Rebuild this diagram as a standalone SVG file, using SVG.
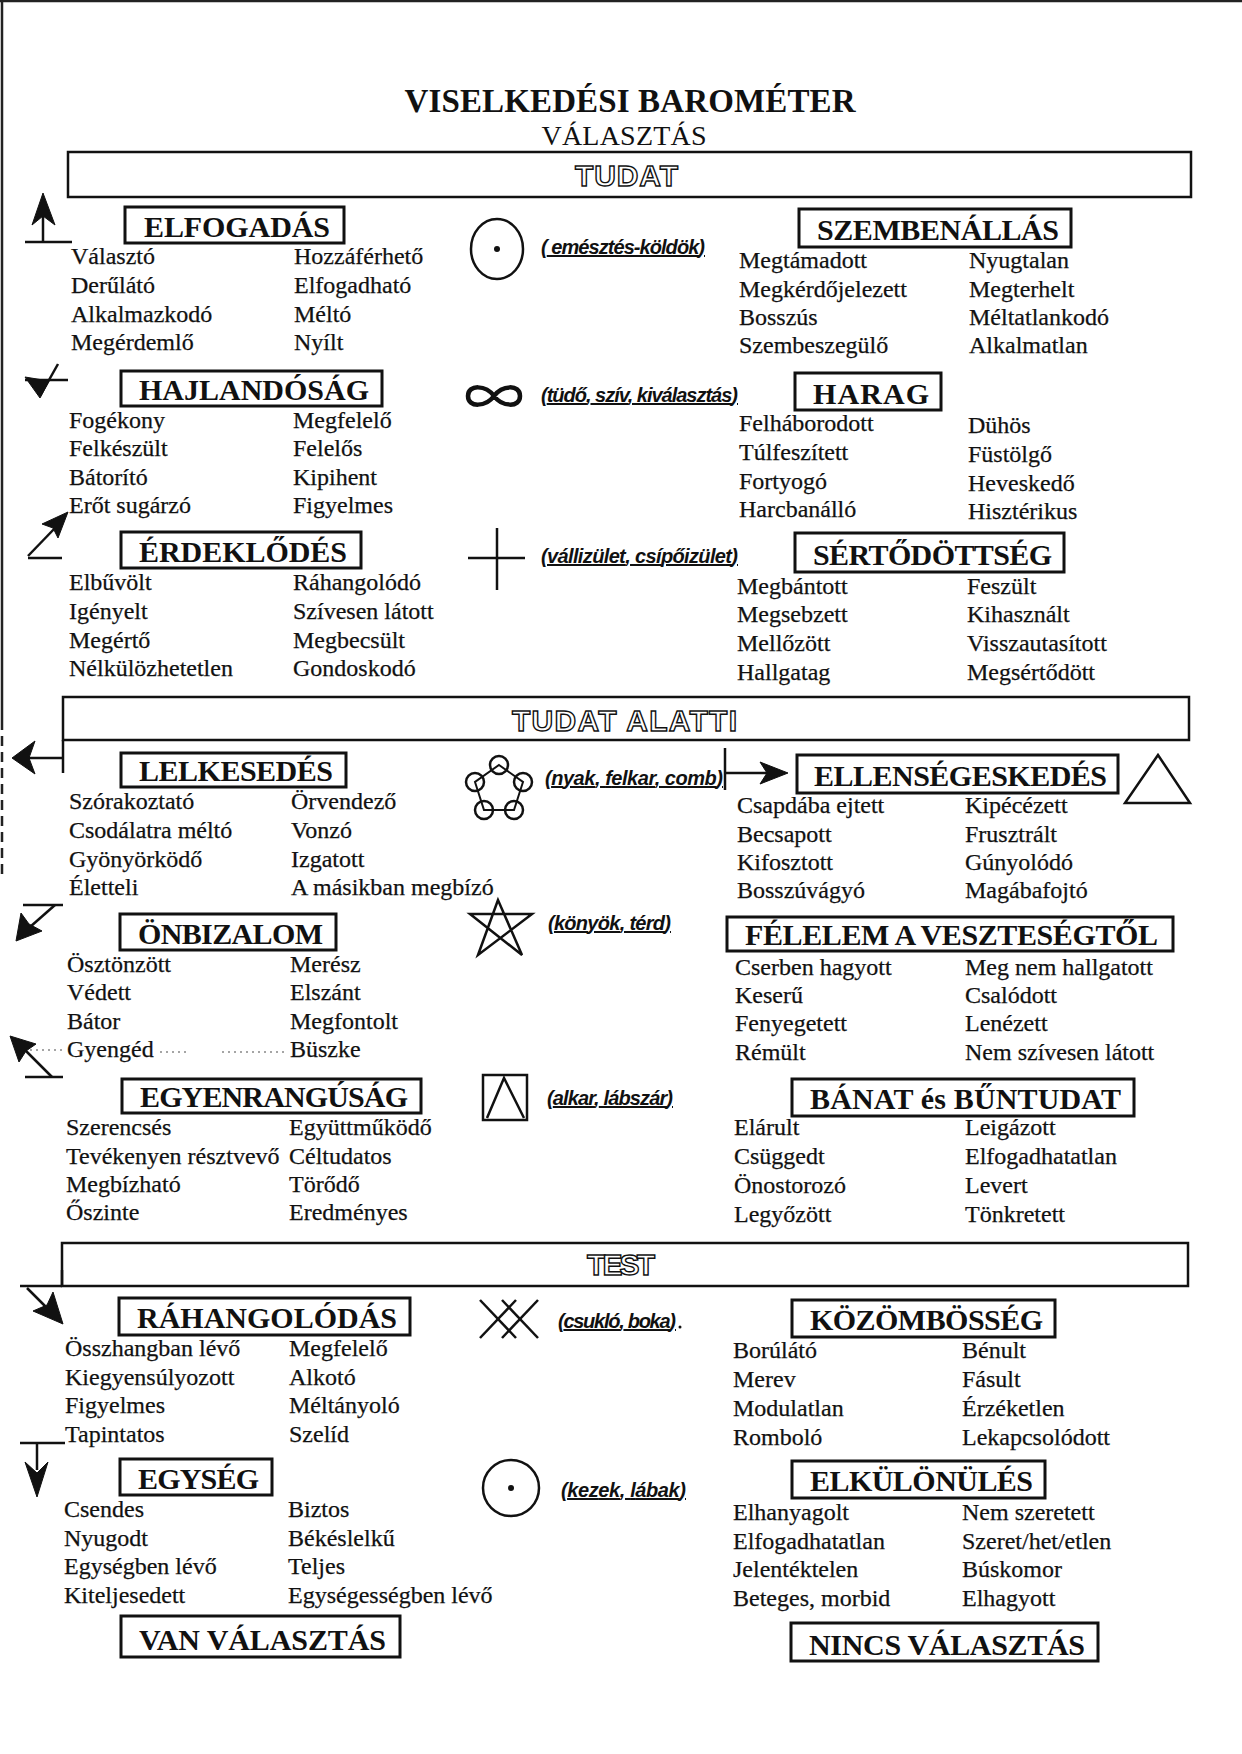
<svg xmlns="http://www.w3.org/2000/svg" width="1242" height="1754" viewBox="0 0 1242 1754">
<style>
.bg{fill:#fff}
.edge{stroke:#222;stroke-width:2.5;fill:none}
.sec{fill:none;stroke:#111;stroke-width:2.5}
.box{fill:none;stroke:#111;stroke-width:3}
.h{font-family:"Liberation Serif",serif;font-weight:bold;font-size:30px;fill:#111}
.w{font-family:"Liberation Serif",serif;font-size:24px;fill:#111;stroke:#111;stroke-width:0.25}
.lbl{font-family:"Liberation Sans",sans-serif;font-weight:bold;font-style:italic;font-size:20px;fill:#111;text-decoration:underline}
.out{font-family:"Liberation Sans",sans-serif;font-weight:bold;font-size:30px;fill:#fff;stroke:#111;stroke-width:1.4}
.sym{fill:none;stroke:#111;stroke-width:2.5}
.ln{stroke:#111;stroke-width:2.5;fill:none}
.fill{fill:#111;stroke:#111;stroke-width:1}
.dot{stroke:#888;stroke-width:1.5;stroke-dasharray:2 4;fill:none}
</style>
<rect class="bg" x="0" y="0" width="1242" height="1754"/>
<!-- page edges -->
<line class="edge" x1="0" y1="1" x2="1242" y2="1"/>
<line class="edge" x1="2" y1="0" x2="2" y2="720"/>
<line class="edge" x1="2" y1="720" x2="2" y2="880" stroke-dasharray="10 6"/>

<g id="title">
<text x="630" y="112" text-anchor="middle" font-family="Liberation Serif, serif" font-weight="bold" font-size="33" fill="#111" textLength="451">VISELKEDÉSI BAROMÉTER</text>
<text x="624" y="145" text-anchor="middle" font-family="Liberation Serif, serif" font-size="28" fill="#111" textLength="165">VÁLASZTÁS</text>
</g>

<g id="sec-tudat">
<rect class="sec" x="68" y="152" width="1123" height="45"/>
<text class="out" x="575" y="186" textLength="103">TUDAT</text>
</g>
<g id="sec-tudat-alatti">
<rect class="sec" x="63" y="697" width="1126" height="43"/>
<text class="out" x="512" y="731" textLength="225">TUDAT ALATTI</text>
</g>
<g id="sec-test">
<rect class="sec" x="62" y="1243" width="1126" height="43"/>
<text class="out" x="587" y="1275" font-size="27" textLength="68">TEST</text>
</g>

<!-- LEFT COLUMN -->
<g id="elfogadas">
<rect class="box" x="125" y="207" width="219" height="36"/>
<text class="h" x="144" y="237" textLength="186">ELFOGADÁS</text>
<text class="w" x="71" y="264">Választó</text><text class="w" x="294" y="264">Hozzáférhető</text>
<text class="w" x="71" y="293">Derűlátó</text><text class="w" x="294" y="293">Elfogadható</text>
<text class="w" x="71" y="322">Alkalmazkodó</text><text class="w" x="294" y="322">Méltó</text>
<text class="w" x="71" y="350">Megérdemlő</text><text class="w" x="294" y="350">Nyílt</text>
</g>
<g id="hajlandosag">
<rect class="box" x="121" y="371" width="261" height="35"/>
<text class="h" x="139" y="400" textLength="230">HAJLANDÓSÁG</text>
<text class="w" x="69" y="428">Fogékony</text><text class="w" x="293" y="428">Megfelelő</text>
<text class="w" x="69" y="456">Felkészült</text><text class="w" x="293" y="456">Felelős</text>
<text class="w" x="69" y="485">Bátorító</text><text class="w" x="293" y="485">Kipihent</text>
<text class="w" x="69" y="513">Erőt sugárzó</text><text class="w" x="293" y="513">Figyelmes</text>
</g>
<g id="erdeklodes">
<rect class="box" x="121" y="532" width="240" height="36"/>
<text class="h" x="139" y="562" textLength="208">ÉRDEKLŐDÉS</text>
<text class="w" x="69" y="590">Elbűvölt</text><text class="w" x="293" y="590">Ráhangolódó</text>
<text class="w" x="69" y="619">Igényelt</text><text class="w" x="293" y="619">Szívesen látott</text>
<text class="w" x="69" y="648">Megértő</text><text class="w" x="293" y="648">Megbecsült</text>
<text class="w" x="69" y="676">Nélkülözhetetlen</text><text class="w" x="293" y="676">Gondoskodó</text>
</g>
<g id="lelkesedes">
<rect class="box" x="121" y="753" width="225" height="34"/>
<text class="h" x="139" y="781" textLength="194">LELKESEDÉS</text>
<text class="w" x="69" y="809">Szórakoztató</text><text class="w" x="291" y="809">Örvendező</text>
<text class="w" x="69" y="838">Csodálatra méltó</text><text class="w" x="291" y="838">Vonzó</text>
<text class="w" x="69" y="867">Gyönyörködő</text><text class="w" x="291" y="867">Izgatott</text>
<text class="w" x="69" y="895">Életteli</text><text class="w" x="291" y="895">A másikban megbízó</text>
</g>
<g id="onbizalom">
<rect class="box" x="120" y="914" width="216" height="36"/>
<text class="h" x="138" y="944" textLength="185">ÖNBIZALOM</text>
<text class="w" x="67" y="972">Ösztönzött</text><text class="w" x="290" y="972">Merész</text>
<text class="w" x="67" y="1000">Védett</text><text class="w" x="290" y="1000">Elszánt</text>
<text class="w" x="67" y="1029">Bátor</text><text class="w" x="290" y="1029">Megfontolt</text>
<text class="w" x="67" y="1057">Gyengéd</text><text class="w" x="290" y="1057">Büszke</text>
<line class="dot" x1="30" y1="1050" x2="64" y2="1050"/>
<line class="dot" x1="160" y1="1052" x2="190" y2="1052"/>
<line class="dot" x1="222" y1="1052" x2="288" y2="1052"/>
</g>
<g id="egyenrangusag">
<rect class="box" x="122" y="1079" width="299" height="34"/>
<text class="h" x="140" y="1107" textLength="268">EGYENRANGÚSÁG</text>
<text class="w" x="66" y="1135">Szerencsés</text><text class="w" x="289" y="1135">Együttműködő</text>
<text class="w" x="66" y="1164">Tevékenyen résztvevő</text><text class="w" x="289" y="1164">Céltudatos</text>
<text class="w" x="66" y="1192">Megbízható</text><text class="w" x="289" y="1192">Törődő</text>
<text class="w" x="66" y="1220">Őszinte</text><text class="w" x="289" y="1220">Eredményes</text>
</g>
<g id="rahangolodas">
<rect class="box" x="119" y="1298" width="291" height="37"/>
<text class="h" x="137" y="1328" textLength="260">RÁHANGOLÓDÁS</text>
<text class="w" x="65" y="1356">Összhangban lévő</text><text class="w" x="289" y="1356">Megfelelő</text>
<text class="w" x="65" y="1385">Kiegyensúlyozott</text><text class="w" x="289" y="1385">Alkotó</text>
<text class="w" x="65" y="1413">Figyelmes</text><text class="w" x="289" y="1413">Méltányoló</text>
<text class="w" x="65" y="1442">Tapintatos</text><text class="w" x="289" y="1442">Szelíd</text>
</g>
<g id="egyseg">
<rect class="box" x="120" y="1459" width="152" height="36"/>
<text class="h" x="138" y="1489" textLength="121">EGYSÉG</text>
<text class="w" x="64" y="1517">Csendes</text><text class="w" x="288" y="1517">Biztos</text>
<text class="w" x="64" y="1546">Nyugodt</text><text class="w" x="288" y="1546">Békéslelkű</text>
<text class="w" x="64" y="1574">Egységben lévő</text><text class="w" x="288" y="1574">Teljes</text>
<text class="w" x="64" y="1603">Kiteljesedett</text><text class="w" x="288" y="1603">Egységességben lévő</text>
</g>
<g id="van-valasztas">
<rect class="box" x="121" y="1616" width="279" height="41"/>
<text class="h" x="139" y="1650" textLength="247">VAN VÁLASZTÁS</text>
</g>

<!-- RIGHT COLUMN -->
<g id="szembenallas">
<rect class="box" x="799" y="209" width="272" height="38"/>
<text class="h" x="817" y="240" textLength="242">SZEMBENÁLLÁS</text>
<text class="w" x="739" y="268">Megtámadott</text><text class="w" x="969" y="268">Nyugtalan</text>
<text class="w" x="739" y="297">Megkérdőjelezett</text><text class="w" x="969" y="297">Megterhelt</text>
<text class="w" x="739" y="325">Bosszús</text><text class="w" x="969" y="325">Méltatlankodó</text>
<text class="w" x="739" y="353">Szembeszegülő</text><text class="w" x="969" y="353">Alkalmatlan</text>
</g>
<g id="harag">
<rect class="box" x="795" y="373" width="146" height="37"/>
<text class="h" x="813" y="404" textLength="116">HARAG</text>
<text class="w" x="739" y="431">Felháborodott</text><text class="w" x="968" y="433">Dühös</text>
<text class="w" x="739" y="460">Túlfeszített</text><text class="w" x="968" y="462">Füstölgő</text>
<text class="w" x="739" y="489">Fortyogó</text><text class="w" x="968" y="491">Heveskedő</text>
<text class="w" x="739" y="517">Harcbanálló</text><text class="w" x="968" y="519">Hisztérikus</text>
</g>
<g id="sertodottseg">
<rect class="box" x="795" y="533" width="269" height="39"/>
<text class="h" x="813" y="565" textLength="239">SÉRTŐDÖTTSÉG</text>
<text class="w" x="737" y="594">Megbántott</text><text class="w" x="967" y="594">Feszült</text>
<text class="w" x="737" y="622">Megsebzett</text><text class="w" x="967" y="622">Kihasznált</text>
<text class="w" x="737" y="651">Mellőzött</text><text class="w" x="967" y="651">Visszautasított</text>
<text class="w" x="737" y="680">Hallgatag</text><text class="w" x="967" y="680">Megsértődött</text>
</g>
<g id="ellensegeskedes">
<rect class="box" x="797" y="755" width="321" height="38"/>
<text class="h" x="814" y="786" textLength="293">ELLENSÉGESKEDÉS</text>
<text class="w" x="737" y="813">Csapdába ejtett</text><text class="w" x="965" y="813">Kipécézett</text>
<text class="w" x="737" y="842">Becsapott</text><text class="w" x="965" y="842">Frusztrált</text>
<text class="w" x="737" y="870">Kifosztott</text><text class="w" x="965" y="870">Gúnyolódó</text>
<text class="w" x="737" y="898">Bosszúvágyó</text><text class="w" x="965" y="898">Magábafojtó</text>
</g>
<g id="felelem">
<rect class="box" x="727" y="917" width="446" height="34"/>
<text class="h" x="745" y="945" textLength="413">FÉLELEM A VESZTESÉGTŐL</text>
<text class="w" x="735" y="975">Cserben hagyott</text><text class="w" x="965" y="975">Meg nem hallgatott</text>
<text class="w" x="735" y="1003">Keserű</text><text class="w" x="965" y="1003">Csalódott</text>
<text class="w" x="735" y="1031">Fenyegetett</text><text class="w" x="965" y="1031">Lenézett</text>
<text class="w" x="735" y="1060">Rémült</text><text class="w" x="965" y="1060">Nem szívesen látott</text>
</g>
<g id="banat">
<rect class="box" x="792" y="1079" width="342" height="37"/>
<text class="h" x="810" y="1109" textLength="311">BÁNAT és BŰNTUDAT</text>
<text class="w" x="734" y="1135">Elárult</text><text class="w" x="965" y="1135">Leigázott</text>
<text class="w" x="734" y="1164">Csüggedt</text><text class="w" x="965" y="1164">Elfogadhatatlan</text>
<text class="w" x="734" y="1193">Önostorozó</text><text class="w" x="965" y="1193">Levert</text>
<text class="w" x="734" y="1222">Legyőzött</text><text class="w" x="965" y="1222">Tönkretett</text>
</g>
<g id="kozombosseg">
<rect class="box" x="792" y="1300" width="263" height="37"/>
<text class="h" x="810" y="1330" textLength="233">KÖZÖMBÖSSÉG</text>
<text class="w" x="733" y="1358">Borúlátó</text><text class="w" x="962" y="1358">Bénult</text>
<text class="w" x="733" y="1387">Merev</text><text class="w" x="962" y="1387">Fásult</text>
<text class="w" x="733" y="1416">Modulatlan</text><text class="w" x="962" y="1416">Érzéketlen</text>
<text class="w" x="733" y="1445">Romboló</text><text class="w" x="962" y="1445">Lekapcsolódott</text>
</g>
<g id="elkulonules">
<rect class="box" x="792" y="1461" width="253" height="37"/>
<text class="h" x="810" y="1491" textLength="223">ELKÜLÖNÜLÉS</text>
<text class="w" x="733" y="1520">Elhanyagolt</text><text class="w" x="962" y="1520">Nem szeretett</text>
<text class="w" x="733" y="1549">Elfogadhatatlan</text><text class="w" x="962" y="1549">Szeret/het/etlen</text>
<text class="w" x="733" y="1577">Jelentéktelen</text><text class="w" x="962" y="1577">Búskomor</text>
<text class="w" x="733" y="1606">Beteges, morbid</text><text class="w" x="962" y="1606">Elhagyott</text>
</g>
<g id="nincs-valasztas">
<rect class="box" x="791" y="1623" width="307" height="38"/>
<text class="h" x="809" y="1655" textLength="276">NINCS VÁLASZTÁS</text>
</g>

<!-- MIDDLE SYMBOLS AND BODY LABELS -->
<g id="sym-emesztes">
<ellipse class="sym" cx="497" cy="249" rx="26" ry="30"/>
<circle cx="497" cy="249" r="3" fill="#111"/>
<text class="lbl" x="541" y="254" textLength="164">( emésztés-köldök)</text>
</g>
<g id="sym-tudo">
<path d="M494,396 C486,385 468,384 468,396 C468,408 486,407 494,396 C502,385 520,384 520,396 C520,408 502,407 494,396 Z" fill="none" stroke="#111" stroke-width="4.5"/>
<text class="lbl" x="541" y="402" textLength="197">(tüdő, szív, kiválasztás)</text>
</g>
<g id="sym-valli">
<line class="ln" x1="497" y1="528" x2="497" y2="590"/>
<line class="ln" x1="468" y1="558" x2="525" y2="558"/>
<text class="lbl" x="541" y="563" textLength="197">(vállizület, csípőizület)</text>
</g>
<g id="sym-nyak">
<polygon points="499,765 523,782 514,810 484,810 475,782" fill="none" stroke="#111" stroke-width="2"/>
<circle class="sym" cx="499" cy="765" r="9" stroke-width="2"/>
<circle class="sym" cx="523" cy="782" r="9" stroke-width="2"/>
<circle class="sym" cx="514" cy="810" r="9" stroke-width="2"/>
<circle class="sym" cx="484" cy="810" r="9" stroke-width="2"/>
<circle class="sym" cx="475" cy="782" r="9" stroke-width="2"/>
<text class="lbl" x="545" y="785" textLength="178">(nyak, felkar, comb)</text>
</g>
<g id="sym-konyok">
<path d="M498,900 L478,955 L532,914 L470,914 L522,955 Z" fill="none" stroke="#111" stroke-width="2.5" stroke-linejoin="miter"/>
<text class="lbl" x="548" y="930" textLength="123">(könyök, térd)</text>
</g>
<g id="sym-alkar">
<rect class="sym" x="483" y="1075" width="44" height="45"/>
<polyline class="sym" points="487,1118 504,1078 524,1118"/>
<text class="lbl" x="547" y="1105" textLength="126">(alkar, lábszár)</text>
</g>
<g id="sym-csuklo">
<line class="ln" x1="480" y1="1300" x2="516" y2="1338"/>
<line class="ln" x1="480" y1="1338" x2="516" y2="1300"/>
<line class="ln" x1="502" y1="1300" x2="538" y2="1338"/>
<line class="ln" x1="502" y1="1338" x2="538" y2="1300"/>
<text class="lbl" x="558" y="1328" textLength="118">(csukló, boka)</text>
<circle cx="680" cy="1327" r="1.5" fill="#111"/>
</g>
<g id="sym-kezek">
<ellipse class="sym" cx="511" cy="1488" rx="28" ry="28"/>
<circle cx="511" cy="1488" r="3" fill="#111"/>
<text class="lbl" x="561" y="1497" textLength="125">(kezek, lábak)</text>
</g>
<g id="sym-triangle">
<polygon class="sym" points="1158,755 1125,803 1190,803"/>
</g>

<!-- LEFT SIDE ARROW SYMBOLS -->
<g id="arrow-up">
<line class="ln" x1="25" y1="242" x2="72" y2="242"/>
<line class="ln" x1="43" y1="242" x2="43" y2="212"/>
<polygon class="fill" points="43,193 55,225 43,216 32,225"/>
</g>
<g id="arrow-check">
<line class="ln" x1="25" y1="380" x2="68" y2="380"/>
<line class="ln" x1="40" y1="396" x2="58" y2="364"/>
<polygon class="fill" points="25,377 49,381 40,398"/>
</g>
<g id="arrow-upright">
<line class="ln" x1="28" y1="558" x2="62" y2="558"/>
<line class="ln" x1="28" y1="556" x2="55" y2="528"/>
<polygon class="fill" points="68,512 58,538 53,528 42,524"/>
</g>
<g id="arrow-left">
<line class="ln" x1="63" y1="740" x2="63" y2="773"/>
<line class="ln" x1="28" y1="758" x2="63" y2="758"/>
<polygon class="fill" points="12,758 35,741 29,758 35,774"/>
</g>
<g id="arrow-downleft">
<line class="ln" x1="23" y1="905" x2="63" y2="905"/>
<line class="ln" x1="55" y1="905" x2="30" y2="927"/>
<polygon class="fill" points="16,941 21,913 29,924 42,931"/>
</g>
<g id="arrow-upleft">
<line class="ln" x1="25" y1="1077" x2="63" y2="1077"/>
<line class="ln" x1="52" y1="1077" x2="22" y2="1047"/>
<polygon class="fill" points="10,1036 36,1044 26,1051 19,1062"/>
</g>
<g id="arrow-downright">
<line class="ln" x1="62" y1="1270" x2="62" y2="1286"/>
<line class="ln" x1="20" y1="1286" x2="62" y2="1286"/>
<line class="ln" x1="27" y1="1288" x2="52" y2="1313"/>
<polygon class="fill" points="63,1324 53,1292 47,1305 33,1311"/>
</g>
<g id="arrow-down">
<line class="ln" x1="20" y1="1443" x2="65" y2="1443"/>
<line class="ln" x1="37" y1="1443" x2="37" y2="1470"/>
<polygon class="fill" points="37,1497 25,1462 37,1473 48,1462"/>
</g>

<g id="connectors">
<line class="ln" x1="725" y1="748" x2="725" y2="790"/>
<line class="ln" x1="725" y1="773" x2="768" y2="773"/>
<polygon class="fill" points="788,773 760,762 767,773 760,784"/>
</g>
</svg>
